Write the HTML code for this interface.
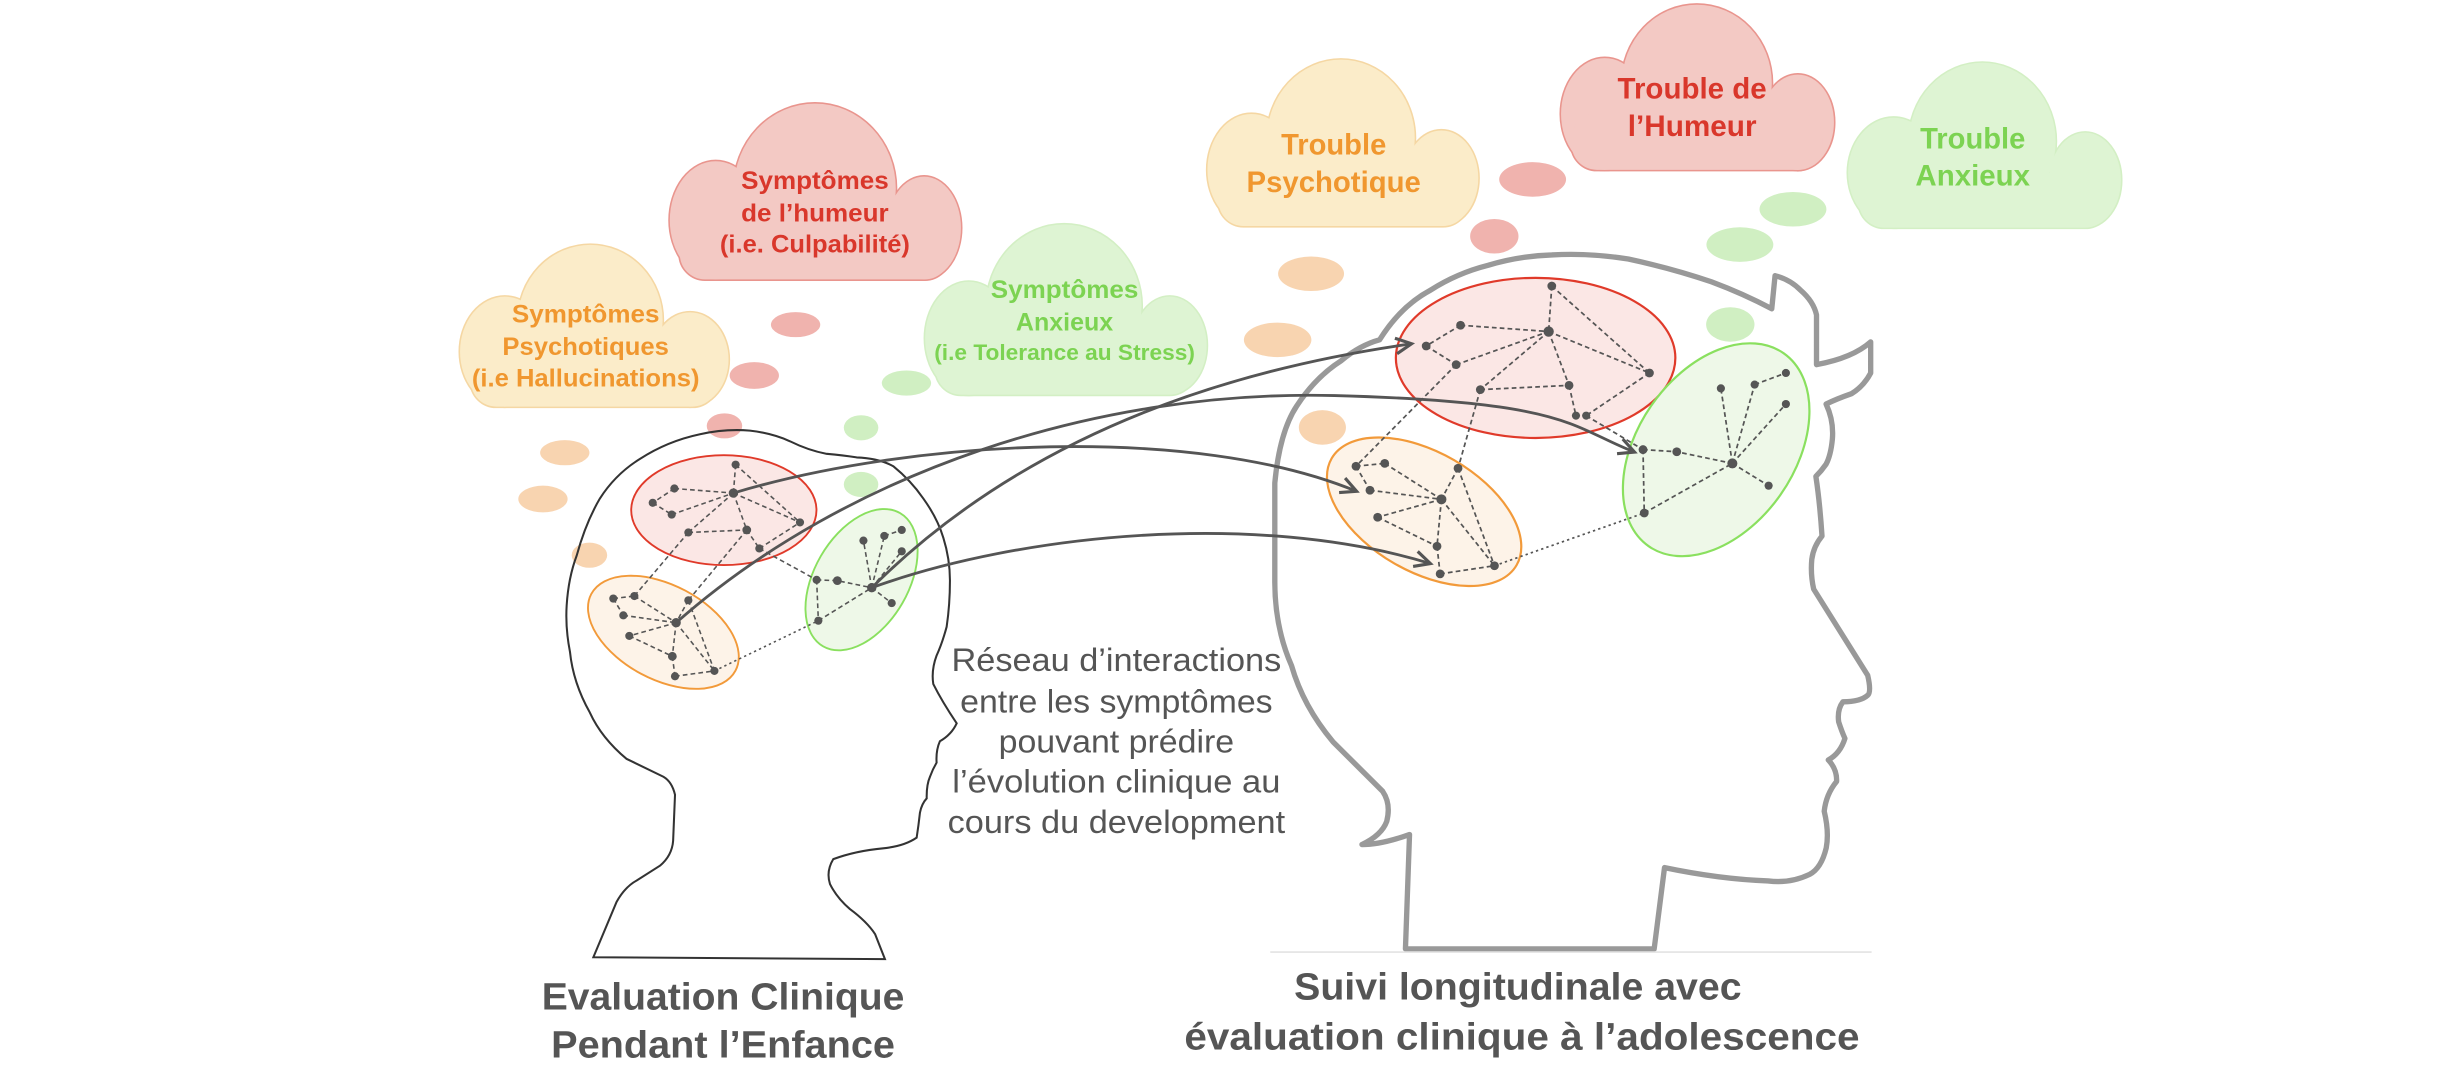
<!DOCTYPE html>
<html><head><meta charset="utf-8"><style>html,body{margin:0;padding:0;background:#fff;}svg{display:block}</style></head>
<body>
<svg width="2462" height="1080" viewBox="0 0 1568 688" preserveAspectRatio="none" xmlns="http://www.w3.org/2000/svg" font-family="'Liberation Sans', sans-serif">
<defs>
<marker id="ah" markerUnits="userSpaceOnUse" markerWidth="14" markerHeight="14" refX="11" refY="6" orient="auto">
<path d="M1,1 L11,6 L1,11" fill="none" stroke="#555" stroke-width="2"/>
</marker>
</defs>
<rect width="1568" height="688" fill="#fff"/>

<!-- bubbles -->
<g>
<ellipse cx="359.7" cy="288.4" rx="15.7" ry="8" fill="#f8d4b0"/>
<ellipse cx="345.8" cy="317.9" rx="15.7" ry="8.5" fill="#f8d4b0"/>
<ellipse cx="375.4" cy="353.7" rx="11.3" ry="8" fill="#f8d4b0"/>
<ellipse cx="506.7" cy="206.8" rx="15.7" ry="8" fill="#f0b3ae"/>
<ellipse cx="480.4" cy="239.2" rx="15.7" ry="8.5" fill="#f0b3ae"/>
<ellipse cx="461.4" cy="271.3" rx="11.3" ry="8" fill="#f0b3ae"/>
<ellipse cx="577.3" cy="244" rx="15.7" ry="8" fill="#d0efc2"/>
<ellipse cx="548.4" cy="272.5" rx="11" ry="8" fill="#d0efc2"/>
<ellipse cx="548.4" cy="308.6" rx="11" ry="8" fill="#d0efc2"/>
<ellipse cx="835" cy="174.4" rx="21" ry="11" fill="#f8d4b0"/>
<ellipse cx="813.7" cy="216.5" rx="21.5" ry="11" fill="#f8d4b0"/>
<ellipse cx="842.2" cy="272.3" rx="15" ry="11" fill="#f8d4b0"/>
<ellipse cx="976.1" cy="114.3" rx="21.3" ry="11" fill="#f0b3ae"/>
<ellipse cx="951.7" cy="150.5" rx="15.4" ry="11" fill="#f0b3ae"/>
<ellipse cx="1141.9" cy="133.3" rx="21.3" ry="11" fill="#d0efc2"/>
<ellipse cx="1108.1" cy="155.8" rx="21.3" ry="11" fill="#d0efc2"/>
<ellipse cx="1102" cy="206.7" rx="15.4" ry="11" fill="#d0efc2"/>
</g>

<!-- clouds: stroked pieces then filled pieces -->
<!-- cloud1 yellow -->
<g stroke="#f5d7a3" stroke-width="2" fill="#fbecc9">
<ellipse cx="376" cy="204" rx="46" ry="48"/><ellipse cx="321.5" cy="224" rx="28.5" ry="35"/><ellipse cx="439.5" cy="229" rx="24.5" ry="30"/><rect x="300" y="225" width="157" height="34" rx="16"/>
</g>
<g fill="#fbecc9"><ellipse cx="376" cy="204" rx="46" ry="48"/><ellipse cx="321.5" cy="224" rx="28.5" ry="35"/><ellipse cx="439.5" cy="229" rx="24.5" ry="30"/><rect x="300" y="225" width="157" height="34" rx="16"/></g>
<!-- cloud2 red -->
<g stroke="#e9958e" stroke-width="2" fill="#f3c9c4">
<ellipse cx="519" cy="120" rx="51.5" ry="54"/><ellipse cx="455.8" cy="140.3" rx="29.2" ry="37.6"/><ellipse cx="588.5" cy="145.2" rx="23.5" ry="32.7"/><rect x="433" y="140" width="172" height="38" rx="16"/>
</g>
<g fill="#f3c9c4"><ellipse cx="519" cy="120" rx="51.5" ry="54"/><ellipse cx="455.8" cy="140.3" rx="29.2" ry="37.6"/><ellipse cx="588.5" cy="145.2" rx="23.5" ry="32.7"/><rect x="433" y="140" width="172" height="38" rx="16"/></g>
<!-- cloud3 green -->
<g stroke="#d3efc4" stroke-width="2" fill="#def4d3">
<ellipse cx="677.7" cy="195" rx="49.3" ry="52"/><ellipse cx="617" cy="215.5" rx="27.8" ry="36"/><ellipse cx="745" cy="220" rx="23.5" ry="31"/><rect x="596" y="215" width="165" height="36.4" rx="16"/>
</g>
<g fill="#def4d3"><ellipse cx="677.7" cy="195" rx="49.3" ry="52"/><ellipse cx="617" cy="215.5" rx="27.8" ry="36"/><ellipse cx="745" cy="220" rx="23.5" ry="31"/><rect x="596" y="215" width="165" height="36.4" rx="16"/></g>
<!-- cloud4 yellow -->
<g stroke="#f5d7a3" stroke-width="2" fill="#fbecc9">
<ellipse cx="854" cy="88" rx="47" ry="50"/><ellipse cx="797" cy="108.2" rx="28" ry="35.6"/><ellipse cx="918" cy="113.5" rx="23.5" ry="30.4"/><rect x="776" y="108" width="159" height="36" rx="16"/>
</g>
<g fill="#fbecc9"><ellipse cx="854" cy="88" rx="47" ry="50"/><ellipse cx="797" cy="108.2" rx="28" ry="35.6"/><ellipse cx="918" cy="113.5" rx="23.5" ry="30.4"/><rect x="776" y="108" width="159" height="36" rx="16"/></g>
<!-- cloud5 red -->
<g stroke="#e9958e" stroke-width="2" fill="#f3c9c4">
<ellipse cx="1080.7" cy="53" rx="47.7" ry="50"/><ellipse cx="1022" cy="72.6" rx="27.8" ry="35.6"/><ellipse cx="1145" cy="77.9" rx="23" ry="30.4"/><rect x="1001" y="72" width="160" height="36.2" rx="16"/>
</g>
<g fill="#f3c9c4"><ellipse cx="1080.7" cy="53" rx="47.7" ry="50"/><ellipse cx="1022" cy="72.6" rx="27.8" ry="35.6"/><ellipse cx="1145" cy="77.9" rx="23" ry="30.4"/><rect x="1001" y="72" width="160" height="36.2" rx="16"/></g>
<!-- cloud6 green -->
<g stroke="#d3efc4" stroke-width="2" fill="#def4d3">
<ellipse cx="1262.5" cy="90" rx="46.7" ry="50"/><ellipse cx="1206" cy="110" rx="29" ry="35"/><ellipse cx="1328" cy="114.7" rx="22.8" ry="30.2"/><rect x="1184" y="110" width="160" height="35" rx="16"/>
</g>
<g fill="#def4d3"><ellipse cx="1262.5" cy="90" rx="46.7" ry="50"/><ellipse cx="1206" cy="110" rx="29" ry="35"/><ellipse cx="1328" cy="114.7" rx="22.8" ry="30.2"/><rect x="1184" y="110" width="160" height="35" rx="16"/></g>

<!-- cloud texts -->
<g font-weight="bold" text-anchor="middle" dominant-baseline="central" lengthAdjust="spacingAndGlyphs">
<text x="373" y="200.2" font-size="16" fill="#f0972f" textLength="94" lengthAdjust="spacingAndGlyphs">Symptômes</text>
<text x="373" y="220.9" font-size="16" fill="#f0972f" textLength="106" lengthAdjust="spacingAndGlyphs">Psychotiques</text>
<text x="373" y="241.1" font-size="16" fill="#f0972f" textLength="145" lengthAdjust="spacingAndGlyphs">(i.e Hallucinations)</text>
<text x="519" y="115.4" font-size="16" fill="#d9372b" textLength="94" lengthAdjust="spacingAndGlyphs">Symptômes</text>
<text x="519" y="136" font-size="16" fill="#d9372b" textLength="94" lengthAdjust="spacingAndGlyphs">de l’humeur</text>
<text x="519" y="155.8" font-size="16" fill="#d9372b" textLength="121" lengthAdjust="spacingAndGlyphs">(i.e. Culpabilité)</text>
<text x="678" y="184.8" font-size="16" fill="#7cd352" textLength="94" lengthAdjust="spacingAndGlyphs">Symptômes</text>
<text x="678" y="205.5" font-size="16" fill="#7cd352" textLength="62" lengthAdjust="spacingAndGlyphs">Anxieux</text>
<text x="678" y="224.5" font-size="14" fill="#7cd352" textLength="166" lengthAdjust="spacingAndGlyphs">(i.e Tolerance au Stress)</text>
<text x="849.4" y="92.4" font-size="19" fill="#f0972f" textLength="67" lengthAdjust="spacingAndGlyphs">Trouble</text>
<text x="849.4" y="116.2" font-size="19" fill="#f0972f" textLength="111" lengthAdjust="spacingAndGlyphs">Psychotique</text>
<text x="1077.7" y="56.8" font-size="19" fill="#d9372b" textLength="95" lengthAdjust="spacingAndGlyphs">Trouble de</text>
<text x="1077.7" y="80.5" font-size="19" fill="#d9372b" textLength="82" lengthAdjust="spacingAndGlyphs">l’Humeur</text>
<text x="1256.4" y="88.4" font-size="19" fill="#7cd352" textLength="67" lengthAdjust="spacingAndGlyphs">Trouble</text>
<text x="1256.4" y="112.2" font-size="19" fill="#7cd352" textLength="73" lengthAdjust="spacingAndGlyphs">Anxieux</text>
</g>

<!-- small head -->
<path d="M377.9,609.8 L392.7,574.5 Q398,565 405.5,560.9 L420.3,551.5 Q428,545 428.7,535.6 L429.9,506.3 Q428,498 422.5,494.8 L399,483.4 Q383,470 375.7,454 Q365,435 363,415.2 Q360,400 360.9,385.7 Q362,368 367.3,353.9 Q373,333 382.1,317.5 Q392,302 407.6,292.3 Q425,281 445.8,276.6 Q462,273 477.6,274.3 Q492,276 503.1,281.1 Q515,287 526.5,289.1 Q537,290 545.6,291.4 Q560,292 568.9,297 Q580,306 588,317.5 Q597,330 600.8,342.6 Q605,356 605,369.8 Q605,385 602.9,399.3 Q600,410 596.5,417.6 Q593,427 594.4,435.8 Q600,447 609.3,460.8 Q606,468 598.6,472.2 Q596,478 596.5,485.8 Q594,490 592.3,494.8 Q590,500 590.2,508.6 Q587,512 585.9,517.7 Q585,526 583.8,533.6 Q576,539 562.6,540.4 Q545,542 530.7,547.3 Q526,555 528.6,563.2 Q533,572 541.3,579.1 Q552,587 557.3,595 L563.6,611 L377.9,609.8 Z" fill="none" stroke="#333" stroke-width="1.3"/>

<!-- big head -->
<path d="M895.1,604.5 L897.7,531.6 Q880,538 867.4,538 Q880,532 883.2,523.2 Q886,512 880.6,504.1 L848.9,472.5 Q830,450 822.5,423.9 Q812,400 811.9,371.1 L811.9,307.7 Q815,275 825.8,258.7 Q838,240 854.3,229.7 Q866,220 878.6,216.5 Q892,195 911.1,184.8 Q928,174 947.7,169 Q968,163 988.3,162.4 Q1012,161 1037,165 Q1065,171 1089.9,179.5 Q1110,187 1128.4,196.7 L1130.5,175.6 Q1140,178 1146.7,184.8 Q1155,192 1156.9,200.6 L1156.9,232.3 Q1180,228 1191.4,217.8 L1191.4,237.6 Q1187,246 1179.2,250.8 Q1170,254 1163,257.4 Q1168,268 1167,279.8 Q1166,290 1163,295.7 Q1160,300 1156.5,303.5 Q1159,320 1160.4,341.5 Q1155,348 1153.9,356.3 Q1153,366 1155.1,375.3 L1189.5,430.2 Q1192,441 1189.5,442.9 Q1185,447 1173.7,447.1 Q1170,452 1171,459.8 Q1173,466 1175,470.4 Q1172,480 1164.4,484.1 Q1170,490 1169.7,497.8 Q1163,506 1161.8,516.8 Q1165,530 1163.1,540.1 Q1160,553 1152.5,557 Q1140,563 1126.1,561.2 Q1095,560 1060.1,552.7 L1053.5,604.5 Z" fill="none" stroke="#999" stroke-width="3.4" stroke-linejoin="round"/>
<line x1="809" y1="606.5" x2="1192" y2="606.5" stroke="#e3e3e3" stroke-width="1"/>

<!-- small ellipses -->
<ellipse cx="461" cy="325" rx="59" ry="35" fill="#fbe7e5" stroke="#e03a2a" stroke-width="1.2"/>
<ellipse cx="422.5" cy="402.8" rx="52" ry="30" transform="rotate(28 422.5 402.8)" fill="#fdf3e8" stroke="#f29a3a" stroke-width="1.2"/>
<ellipse cx="548.7" cy="369.3" rx="30" ry="49" transform="rotate(30 548.7 369.3)" fill="#eef8e8" stroke="#8ae05f" stroke-width="1.2"/>
<!-- big ellipses -->
<ellipse cx="978" cy="228" rx="89" ry="51" fill="#fbe7e5" stroke="#e03a2a" stroke-width="1.4"/>
<ellipse cx="907" cy="326" rx="68" ry="38" transform="rotate(30 907 326)" fill="#fdf3e8" stroke="#f29a3a" stroke-width="1.4"/>
<ellipse cx="1093" cy="286.5" rx="50" ry="75" transform="rotate(35 1093 286.5)" fill="#eef8e8" stroke="#8ae05f" stroke-width="1.4"/>

<!-- small network edges -->
<g stroke="#555" stroke-width="1" stroke-dasharray="3 2" fill="none">
<path d="M468.5,296 L467.1,314.1 M468.5,296 L509.5,332.8 M429.5,311.2 L467.1,314.1 M429.5,311.2 L415.7,320.3 M415.7,320.3 L427.8,327.8 M427.8,327.8 L467.1,314.1 M467.1,314.1 L475.6,337.6 M467.1,314.1 L509.5,332.8 M467.1,314.1 L438.4,339.2 M438.4,339.2 L475.6,337.6 M475.6,337.6 L483.6,349.4 M483.6,349.4 L509.5,332.8"/>
<path d="M438.4,339.2 L404,379.7 M475.6,337.6 L438.4,382.4 M483.6,349.4 L520.1,369.4"/>
<path d="M390.6,381.3 L404,379.7 M390.6,381.3 L397,392 M397,392 L430.6,396.7 M404,379.7 L430.6,396.7 M438.4,382.4 L430.6,396.7 M430.6,396.7 L400.8,405.1 M400.8,405.1 L428.2,418.1 M430.6,396.7 L428.2,418.1 M428.2,418.1 L429.9,430.8 M429.9,430.8 L455,427.4 M430.6,396.7 L455,427.4 M438.4,382.4 L455,427.4"/>
<path d="M520.1,369.4 L533.3,369.9 L555.2,374.4 M520.1,369.4 L521.2,395.4 M521.2,395.4 L555.2,374.4 M555.2,374.4 L549.9,344.4 M555.2,374.4 L563.2,341.4 M563.2,341.4 L574.3,337.6 M555.2,374.4 L574.3,351.2 M555.2,374.4 L567.9,384.2"/>
</g>
<path d="M455,427.4 L521.2,395.4" stroke="#555" stroke-width="1" stroke-dasharray="1.5 2" fill="none"/>

<!-- big network edges -->
<g stroke="#555" stroke-width="1.1" stroke-dasharray="3 2" fill="none">
<path d="M988.3,182.2 L986.3,211.2 M988.3,182.2 L1050.5,237.6 M930.2,207.2 L986.3,211.2 M930.2,207.2 L908.3,220.4 M908.3,220.4 L927.4,232.3 M927.4,232.3 L986.3,211.2 M986.3,211.2 L942.8,248.2 M986.3,211.2 L1050.5,237.6 M986.3,211.2 L999.3,245.5 M942.8,248.2 L999.3,245.5 M999.3,245.5 L1003.7,264.8 M1050.5,237.6 L1010.2,264.8 M1010.2,264.8 L1046.4,286.4 M927.4,232.3 L863.6,297 M942.8,248.2 L928.6,298.3"/>
<path d="M863.6,297 L881.9,295.2 M863.6,297 L872.5,312.3 M881.9,295.2 L918,318.1 M872.5,312.3 L918,318.1 M928.6,298.3 L918,318.1 M918,318.1 L877.4,329.5 M877.4,329.5 L915.2,348 M918,318.1 L915.2,348 M915.2,348 L917.2,365.6 M917.2,365.6 L951.8,360.4 M928.6,298.3 L951.8,360.4 M918,318.1 L951.8,360.4"/>
<path d="M1046.4,286.4 L1067.9,287.8 L1103.3,295.2 M1046.4,286.4 L1047.2,326.8 M1047.2,326.8 L1103.3,295.2 M1103.3,295.2 L1096,247.4 M1103.3,295.2 L1117.5,245 M1117.5,245 L1137.4,237.6 M1103.3,295.2 L1137.4,257.4 M1103.3,295.2 L1126.4,309.4"/>
</g>
<path d="M951.8,360.4 L1047.2,326.8" stroke="#555" stroke-width="1.1" stroke-dasharray="1.5 2" fill="none"/>

<!-- nodes -->
<g fill="#555">
<circle cx="468.5" cy="296" r="2.6"/><circle cx="467.1" cy="314.1" r="3"/><circle cx="429.5" cy="311.2" r="2.6"/><circle cx="415.7" cy="320.3" r="2.6"/><circle cx="427.8" cy="327.8" r="2.6"/><circle cx="438.4" cy="339.2" r="2.6"/><circle cx="475.6" cy="337.6" r="2.8"/><circle cx="509.5" cy="332.8" r="2.6"/><circle cx="483.6" cy="349.4" r="2.6"/>
<circle cx="390.6" cy="381.3" r="2.6"/><circle cx="404" cy="379.7" r="2.6"/><circle cx="397" cy="392" r="2.6"/><circle cx="430.6" cy="396.7" r="3"/><circle cx="438.4" cy="382.4" r="2.6"/><circle cx="400.8" cy="405.1" r="2.6"/><circle cx="428.2" cy="418.1" r="2.8"/><circle cx="429.9" cy="430.8" r="2.6"/><circle cx="455" cy="427.4" r="2.6"/>
<circle cx="549.9" cy="344.4" r="2.6"/><circle cx="563.2" cy="341.4" r="2.6"/><circle cx="574.3" cy="337.6" r="2.6"/><circle cx="574.3" cy="351.2" r="2.6"/><circle cx="520.1" cy="369.4" r="2.6"/><circle cx="533.3" cy="369.9" r="2.8"/><circle cx="555.2" cy="374.4" r="3"/><circle cx="567.9" cy="384.2" r="2.6"/><circle cx="521.2" cy="395.4" r="2.6"/>
<circle cx="988.3" cy="182.2" r="2.8"/><circle cx="986.3" cy="211.2" r="3.3"/><circle cx="930.2" cy="207.2" r="2.8"/><circle cx="908.3" cy="220.4" r="2.8"/><circle cx="927.4" cy="232.3" r="2.8"/><circle cx="942.8" cy="248.2" r="2.8"/><circle cx="999.3" cy="245.5" r="2.8"/><circle cx="1050.5" cy="237.6" r="2.8"/><circle cx="1003.7" cy="264.8" r="2.6"/><circle cx="1010.2" cy="264.8" r="2.6"/>
<circle cx="863.6" cy="297" r="2.8"/><circle cx="881.9" cy="295.2" r="2.8"/><circle cx="872.5" cy="312.3" r="2.8"/><circle cx="918" cy="318.1" r="3.2"/><circle cx="928.6" cy="298.3" r="2.8"/><circle cx="877.4" cy="329.5" r="2.8"/><circle cx="915.2" cy="348" r="2.8"/><circle cx="917.2" cy="365.6" r="2.8"/><circle cx="951.8" cy="360.4" r="2.8"/>
<circle cx="1046.4" cy="286.4" r="2.8"/><circle cx="1067.9" cy="287.8" r="2.8"/><circle cx="1103.3" cy="295.2" r="3.2"/><circle cx="1096" cy="247.4" r="2.6"/><circle cx="1117.5" cy="245" r="2.6"/><circle cx="1137.4" cy="237.6" r="2.6"/><circle cx="1137.4" cy="257.4" r="2.6"/><circle cx="1126.4" cy="309.4" r="2.6"/><circle cx="1047.2" cy="326.8" r="2.8"/>
</g>

<!-- arrows -->
<g stroke="#555" stroke-width="1.8" fill="none" marker-end="url(#ah)">
<path d="M555.2,374.4 Q680,250 899,219"/>
<path d="M430.6,396.7 C540,300 700,248 850,252 S1000,272 1041,288"/>
<path d="M467.1,314.1 C580,280 760,270 864,313"/>
<path d="M555.2,374.4 C650,340 800,325 911,359"/>
</g>

<!-- middle text -->
<g font-size="20.5" fill="#555" text-anchor="middle" dominant-baseline="central">
<text x="711" y="420.3" textLength="210" lengthAdjust="spacingAndGlyphs">Réseau d’interactions</text>
<text x="711" y="447" textLength="199" lengthAdjust="spacingAndGlyphs">entre les symptômes</text>
<text x="711" y="472.5" textLength="150" lengthAdjust="spacingAndGlyphs">pouvant prédire</text>
<text x="711" y="498" textLength="209" lengthAdjust="spacingAndGlyphs">l’évolution clinique au</text>
<text x="711" y="523.5" textLength="215" lengthAdjust="spacingAndGlyphs">cours du development</text>
</g>

<!-- bottom titles -->
<g font-size="24" font-weight="bold" fill="#555" text-anchor="middle" dominant-baseline="central">
<text x="460.5" y="634.7" textLength="231" lengthAdjust="spacingAndGlyphs">Evaluation Clinique</text>
<text x="460.5" y="665.5" textLength="219" lengthAdjust="spacingAndGlyphs">Pendant l’Enfance</text>
<text x="966.7" y="628.4" textLength="285" lengthAdjust="spacingAndGlyphs">Suivi longitudinale avec</text>
<text x="969.3" y="660.2" textLength="430" lengthAdjust="spacingAndGlyphs">évaluation clinique  à l’adolescence</text>
</g>
</svg>
</body></html>
